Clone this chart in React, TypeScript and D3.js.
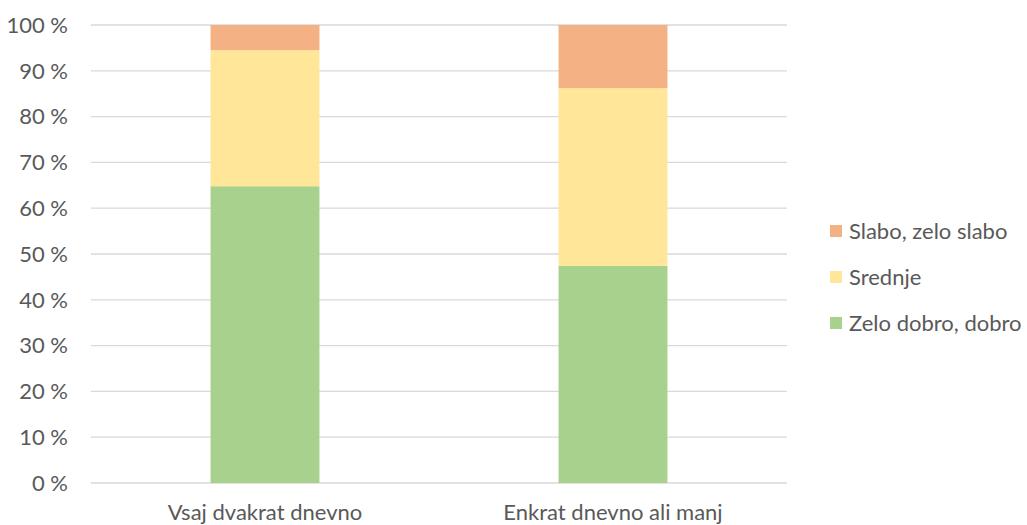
import React from "react";
import * as d3 from "d3";

const categories = ["Vsaj dvakrat dnevno", "Enkrat dnevno ali manj"];
const seriesNames = ["Zelo dobro, dobro", "Srednje", "Slabo, zelo slabo"];
const zeloDobro = [64.8, 47.4];
const srednje = [29.7, 38.8];
const slabo = [5.5, 13.8];
const yTicks = [0, 10, 20, 30, 40, 50, 60, 70, 80, 90, 100];
const colors = ["#A9D18E", "#FFE699", "#F4B183"];

const W = 1027;
const H = 525;
const FONT = "Lato, 'Open Sans', sans-serif";
const TEXT = "#595959";
const FS = 22;

export default function App() {
  const left = 91, right = 787, top = 25, bottom = 483;
  const x = d3.scaleBand<string>().domain(categories).range([left, right]).paddingInner(0.687).paddingOuter(0.3435);
  const y = d3.scaleLinear().domain([0, 100]).range([bottom, top]);
  const rows = categories.map((c, i) => ({ cat: c, s0: zeloDobro[i], s1: srednje[i], s2: slabo[i] }));
  const stack = d3.stack<any>().keys(["s0", "s1", "s2"]);
  const layers = stack(rows);
  const legendItems = [2, 1, 0];

  return (
    <svg width={W} height={H} style={{ position: "absolute", left: 0, top: 0, background: "#fff" }}>
      {yTicks.map((t) => (
        <g key={t}>
          <line x1={left} x2={right} y1={y(t)} y2={y(t)} stroke="#D9D9D9" strokeWidth={1.3} />
          <text x={68} y={y(t)} dy="0.35em" textAnchor="end" fontFamily={FONT} fontSize={FS} fill={TEXT}>
            {t} %
          </text>
        </g>
      ))}
      {layers.map((layer, li) =>
        layer.map((d, i) => (
          <rect
            key={li + "-" + i}
            x={x(categories[i])}
            width={x.bandwidth()}
            y={y(Math.min(d[1], 100))}
            height={y(d[0]) - y(Math.min(d[1], 100))}
            fill={colors[li]}
          />
        ))
      )}
      {categories.map((c) => (
        <text key={c} x={(x(c) as number) + x.bandwidth() / 2} y={520} textAnchor="middle" fontFamily={FONT} fontSize={FS} fill={TEXT}>
          {c}
        </text>
      ))}
      {legendItems.map((si, k) => (
        <g key={si} transform={`translate(830, ${231 + k * 46})`}>
          <rect x={0} y={-6} width={12} height={12} fill={colors[si]} />
          <text x={19} y={0} dy="0.35em" fontFamily={FONT} fontSize={FS} fill={TEXT}>
            {seriesNames[si]}
          </text>
        </g>
      ))}
    </svg>
  );
}
